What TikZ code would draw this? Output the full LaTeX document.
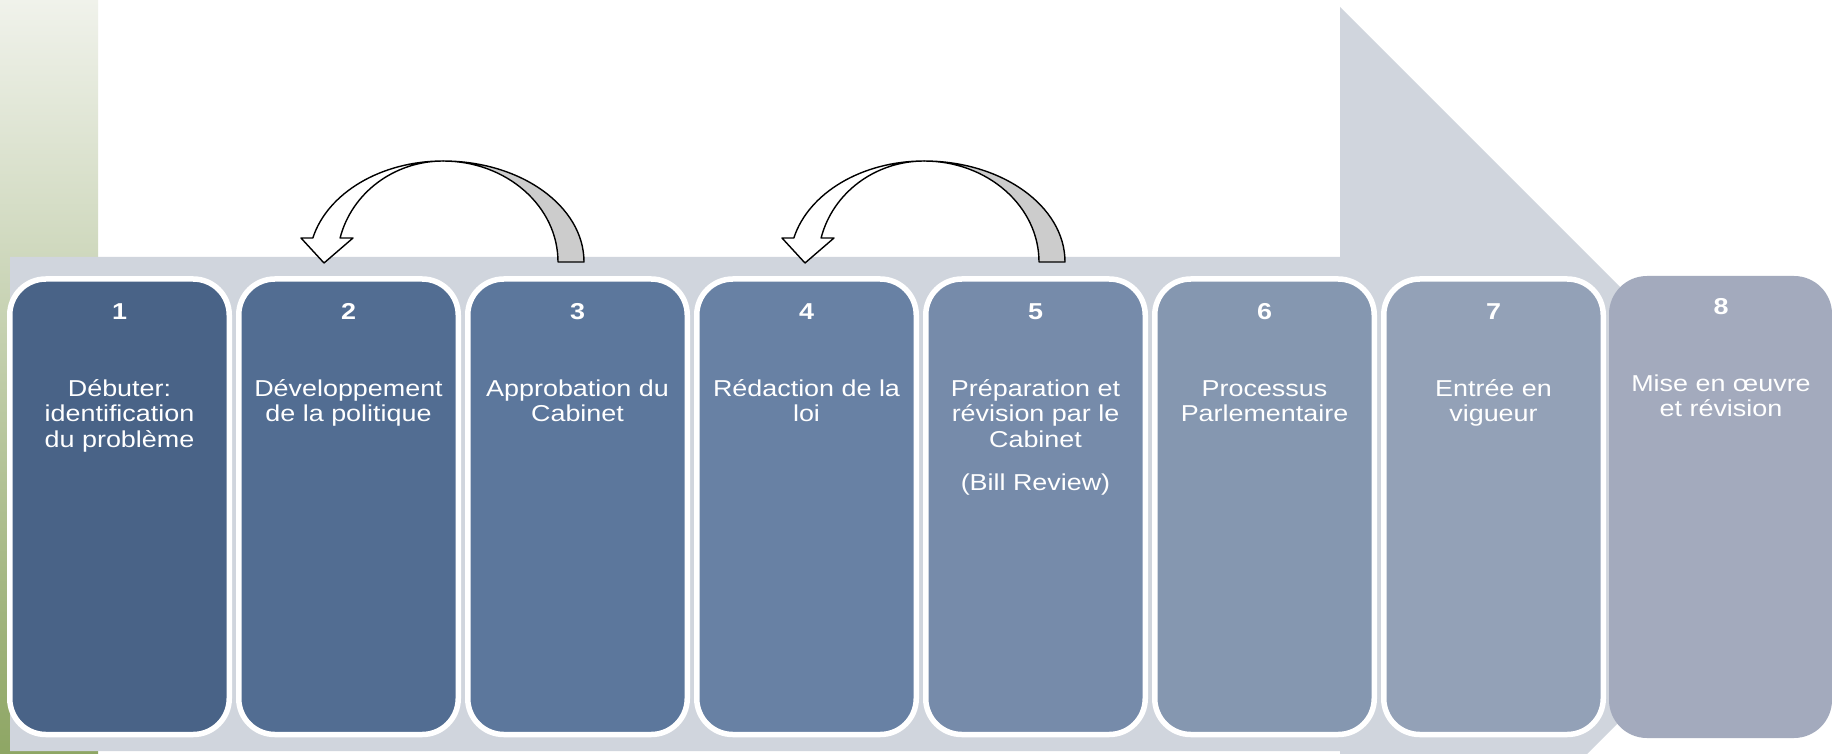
\documentclass[tikz,border=0pt]{standalone}
\usepackage{fontspec}
\setmainfont{Liberation Sans}[FakeStretch=1.17]
\usepackage{tikz}
\usepackage{xcolor}
\definecolor{stepOne}{RGB}{73,99,135}
\definecolor{stepTwo}{RGB}{82,109,146}
\definecolor{stepThree}{RGB}{92,119,156}
\definecolor{stepFour}{RGB}{104,129,164}
\definecolor{stepFive}{RGB}{118,139,170}
\definecolor{stepSix}{RGB}{133,151,176}
\definecolor{stepSeven}{RGB}{147,161,183}
\definecolor{stepEight}{RGB}{163,170,189}
\definecolor{bandGrey}{RGB}{208,213,221}
\definecolor{backGrey}{RGB}{204,204,204}
\definecolor{greenTop}{RGB}{240,242,235}
\definecolor{greenBottom}{RGB}{142,166,100}

\begin{document}
\begin{tikzpicture}[x=1pt,y=1pt,
  stepbox/.style={draw=white, line width=5.5pt, rounded corners=36pt},
  steptext/.style={text=white, align=center, inner sep=0pt, font=\fontsize{23}{25.5}\selectfont},
  stepnum/.style={steptext, font=\fontsize{23}{25.5}\selectfont\bfseries},
  loopface/.style={draw=black, line width=1.4pt, line join=round}]
\newcommand\LoopArrow[1]{%
  \begin{scope}[xshift=#1]
  \filldraw [loopface, fill=backGrey] (584,-262) arc[start angle=0, end angle=90, x radius=141pt, y radius=101pt]
    arc[start angle=90, end angle=0, x radius=115pt, y radius=101pt] -- cycle;
  \filldraw [loopface, fill=white] (443,-161) arc[start angle=90, end angle=166.25, x radius=134pt, y radius=101pt]
    -- (301,-238) -- (324,-263) -- (353,-238) -- (340.1,-238)
    arc[start angle=166.25, end angle=90, x radius=106pt, y radius=101pt] -- cycle;
  \end{scope}}
\useasboundingbox (0,0) rectangle (1832,-754);
\fill [white] (0,0) rectangle (1832,-754);
\shade [top color=greenTop, bottom color=greenBottom] (0,0) rectangle (98,-754);

% big grey arrow behind the steps
\begin{scope}
\clip (0,0) rectangle (1832,-754);
\fill [bandGrey] (10,-257) -- (1340,-257) -- (1340,-7) -- (1837,-504) -- (1340,-1001) -- (1340,-751) -- (10,-751) -- cycle;
\end{scope}

\draw [stepbox, fill=stepOne] (9.75,-279) rectangle (229.25,-734.5);
\draw [stepbox, fill=stepTwo] (238.75,-279) rectangle (458.25,-734.5);
\draw [stepbox, fill=stepThree] (467.75,-279) rectangle (687.25,-734.5);
\draw [stepbox, fill=stepFour] (696.75,-279) rectangle (916.25,-734.5);
\draw [stepbox, fill=stepFive] (925.75,-279) rectangle (1145.25,-734.5);
\draw [stepbox, fill=stepSix] (1154.75,-279) rectangle (1374.25,-734.5);
\draw [stepbox, fill=stepSeven] (1383.75,-279) rectangle (1603.25,-734.5);
\fill [stepEight, rounded corners=38pt] (1609,-276) rectangle (1832,-738);

\node [stepnum, anchor=base] (n1) at (119.5,-319) {1};
\node [stepnum, anchor=base] (n2) at (348.5,-319) {2};
\node [stepnum, anchor=base] (n3) at (577.5,-319) {3};
\node [stepnum, anchor=base] (n4) at (806.5,-319) {4};
\node [stepnum, anchor=base] (n5) at (1035.5,-319) {5};
\node [stepnum, anchor=base] (n6) at (1264.5,-319) {6};
\node [stepnum, anchor=base] (n7) at (1493.5,-319) {7};
\node [stepnum, anchor=base] (n8) at (1721,-314) {8};

% base = last line, so the first line sits at -396
\node [steptext, anchor=base] (t1) at (119.5,-447) {Débuter:\\identification\\du problème};
\node [steptext, anchor=base] (t2) at (348.5,-421.5) {Développement\\de la politique};
\node [steptext, anchor=base] (t3) at (577.5,-421.5) {Approbation du\\Cabinet};
\node [steptext, anchor=base] (t4) at (806.5,-421.5) {Rédaction de la\\loi};
\node [steptext, anchor=base] (t5) at (1035.5,-447) {Préparation et\\révision par le\\Cabinet};
\node [steptext, anchor=base] (b5) at (1035.5,-490) {(Bill Review)};
\node [steptext, anchor=base] (t6) at (1264.5,-421.5) {Processus\\Parlementaire};
\node [steptext, anchor=base] (t7) at (1493.5,-421.5) {Entrée en\\vigueur};
\node [steptext, anchor=base] (t8) at (1721,-416.5) {Mise en œuvre\\et révision};

% loop-back arrows
\LoopArrow{0pt}
\LoopArrow{481pt}
\end{tikzpicture}
\end{document}
